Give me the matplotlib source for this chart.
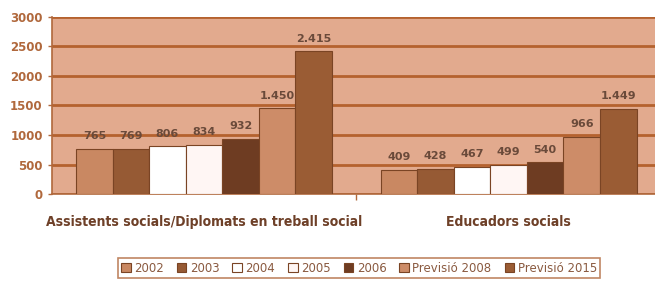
import matplotlib
matplotlib.use("Agg")
import matplotlib.pyplot as plt
import numpy as np

categories = ["Assistents socials/Diplomats en treball social", "Educadors socials"]
series = ["2002", "2003", "2004", "2005", "2006", "Previsió 2008", "Previsió 2015"]
values = {
    "2002":          [765, 409],
    "2003":          [769, 428],
    "2004":          [806, 467],
    "2005":          [834, 499],
    "2006":          [932, 540],
    "Previsió 2008": [1450, 966],
    "Previsió 2015": [2415, 1449],
}
labels = {
    "2002":          ["765", "409"],
    "2003":          ["769", "428"],
    "2004":          ["806", "467"],
    "2005":          ["834", "499"],
    "2006":          ["932", "540"],
    "Previsió 2008": ["1.450", "966"],
    "Previsió 2015": ["2.415", "1.449"],
}
yticks = [0, 500, 1000, 1500, 2000, 2500, 3000]

colors = ["#C98862", "#965A34", "#FFFFFF", "#FFF6F4", "#6E3C22", "#CD8C68", "#9A5C34"]
brown = "#B0683C"
label_col = "#6A4A3A"

fig = plt.figure(figsize=(6.55, 2.91), dpi=100)
ax = fig.add_axes([0.079, 0.333, 0.93, 0.609])
ax.set_facecolor("#E2AA8E")

x = np.arange(len(categories))
n = len(series)
w = 0.84 / n
for i, s in enumerate(series):
    pos = x - 0.42 + w * (i + 0.5)
    ax.bar(pos, values[s], width=w, color=colors[i], edgecolor="#7A4424",
           linewidth=0.8, zorder=3)
    for p, v, t in zip(pos, values[s], labels[s]):
        ax.text(p, v + 130, t, ha="center", va="bottom", fontsize=8,
                fontweight="bold", color=label_col, zorder=4)

ax.set_ylim(0, 3000)
ax.set_xlim(-0.5, 1.5)
ax.set_yticks(yticks)
ax.set_yticklabels([str(t) for t in yticks], fontsize=8.5, fontweight="bold", color=brown)
ax.yaxis.grid(True, color="#B5622E", linewidth=2, zorder=1)
ax.set_xticks([0.5])
ax.set_xticklabels([""])
ax.tick_params(axis="x", length=4, color=brown, width=1)
ax.tick_params(axis="y", length=3, color=brown, width=1)
for side in ["top", "right"]:
    ax.spines[side].set_visible(False)
ax.spines["left"].set_color(brown)
ax.spines["bottom"].set_color(brown)
ax.spines["left"].set_linewidth(1.2)
ax.spines["bottom"].set_linewidth(1.2)

for xi, c in zip(x, categories):
    ax.text(xi, -0.12, c, transform=ax.get_xaxis_transform(), ha="center", va="top",
            fontsize=10, fontweight="bold", fontstretch="condensed",
            family=["Liberation Sans Narrow", "DejaVu Sans"], color="#6E4028")

handles = [plt.Rectangle((0, 0), 1, 1, facecolor=colors[i], edgecolor="#7A4424", linewidth=0.8)
           for i in range(n)]
leg = fig.legend(handles, series, loc="center", bbox_to_anchor=(0.548, 0.078), ncol=n,
                 fontsize=8.5, frameon=True, handlelength=0.8, handleheight=0.8,
                 handletextpad=0.3, columnspacing=1.1, borderpad=0.3, fancybox=False)
leg.get_frame().set_edgecolor(brown)
leg.get_frame().set_linewidth(1.2)
for t in leg.get_texts():
    t.set_color("#8A5A40")

fig.savefig("out.png", dpi=100)
